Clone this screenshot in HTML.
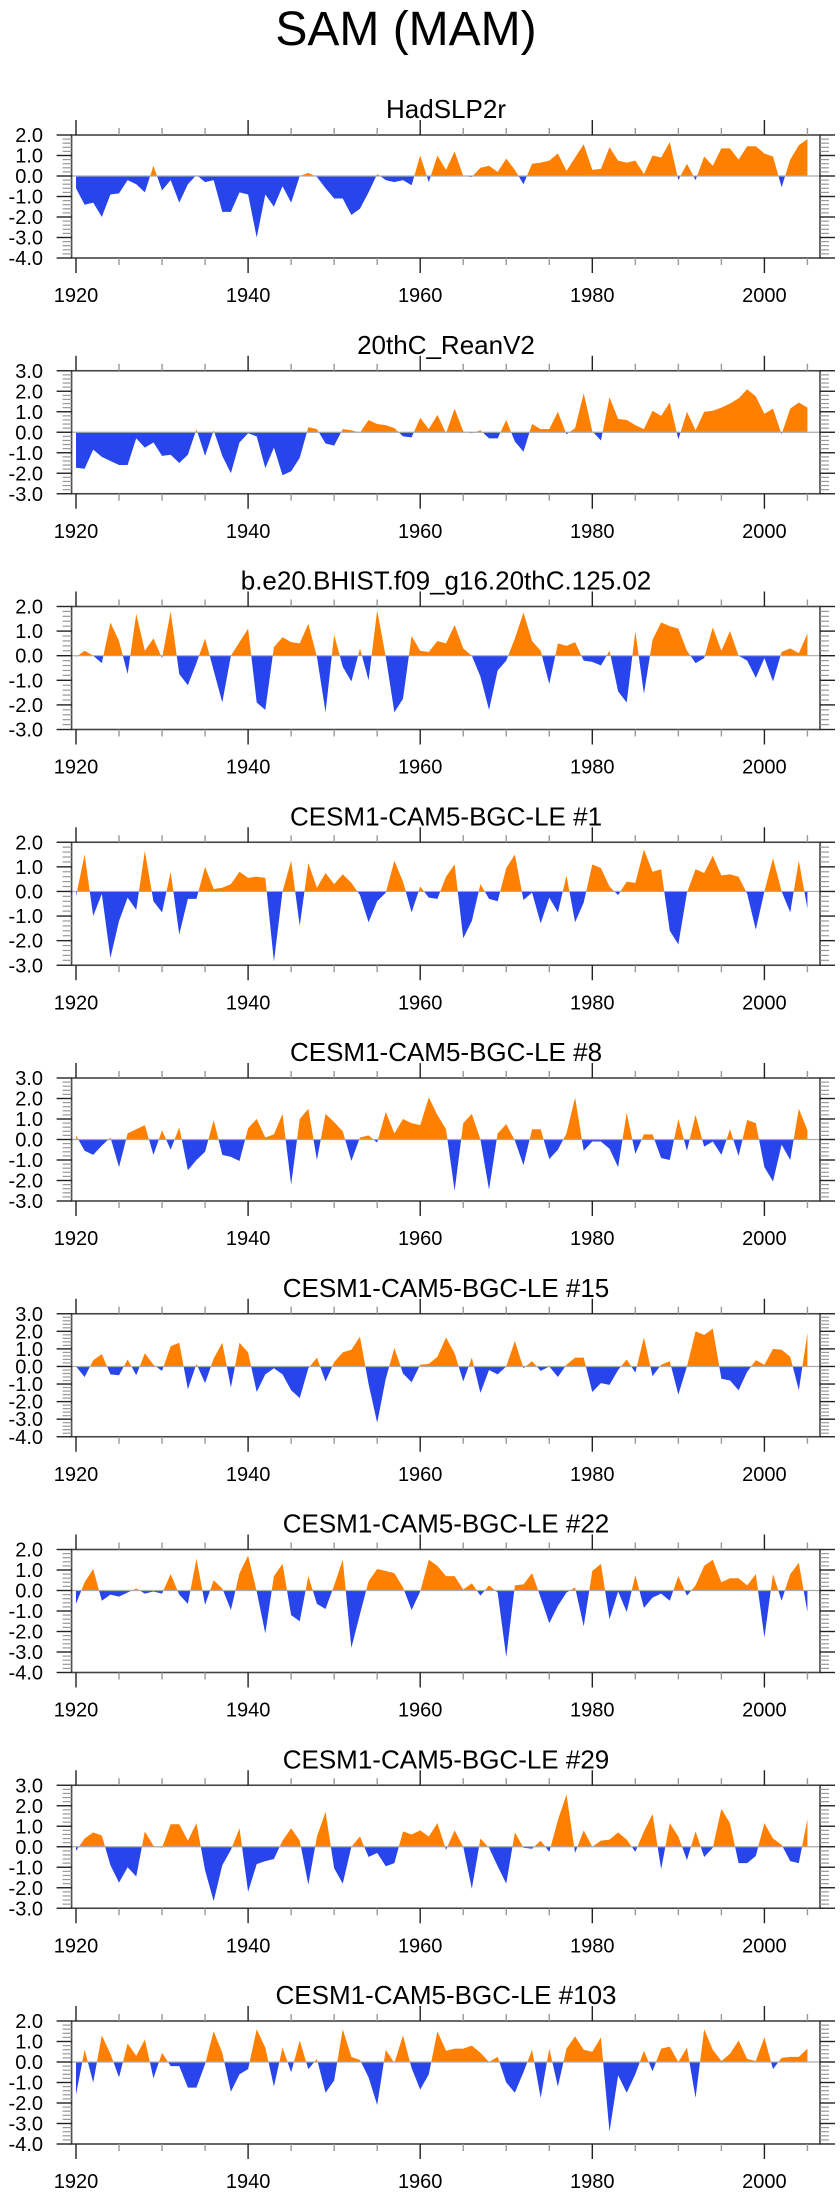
<!DOCTYPE html>
<html>
<head>
<meta charset="utf-8">
<style>
html,body{margin:0;padding:0;background:#fff;}
svg{display:block;}
text{font-family:"Liberation Sans",sans-serif;fill:#000;}
</style>
</head>
<body>
<svg id="chart" width="840" height="2200" viewBox="0 0 840 2200" xmlns="http://www.w3.org/2000/svg">
<text x="406" y="45" font-size="48" text-anchor="middle">SAM (MAM)</text>
</svg>
<script>
const startYear = 1920;
const years = [];
for (let y = 1920; y <= 2005; y++) years.push(y);
const xTickLabels = ["1920","1940","1960","1980","2000"];
const panelTitles = ["HadSLP2r","20thC_ReanV2","b.e20.BHIST.f09_g16.20thC.125.02","CESM1-CAM5-BGC-LE #1","CESM1-CAM5-BGC-LE #8","CESM1-CAM5-BGC-LE #15","CESM1-CAM5-BGC-LE #22","CESM1-CAM5-BGC-LE #29","CESM1-CAM5-BGC-LE #103"];
const yMaxs = [2,3,2,2,3,3,2,3,2];
const yMins = [-4,-3,-3,-3,-3,-4,-4,-3,-4];

const had = [-0.6,-1.4,-1.3,-2.0,-0.9,-0.85,-0.2,-0.4,-0.8,0.5,-0.7,-0.2,-1.3,-0.4,0.05,-0.3,-0.2,-1.75,-1.75,-0.8,-0.9,-3.0,-0.9,-1.5,-0.5,-1.3,0.0,0.15,-0.05,-0.6,-1.1,-1.1,-1.9,-1.6,-0.8,0.1,-0.2,-0.3,-0.2,-0.45,1.0,-0.3,1.0,0.3,1.2,0.0,-0.05,0.4,0.5,0.2,0.85,0.3,-0.4,0.6,0.65,0.75,1.1,0.25,0.9,1.55,0.3,0.35,1.4,0.75,0.65,0.75,0.1,1.0,0.9,1.65,-0.2,0.6,-0.2,0.95,0.5,1.35,1.35,0.8,1.45,1.45,1.1,0.95,-0.55,0.8,1.5,1.8];
const rean = [-1.73,-1.78,-0.85,-1.2,-1.4,-1.6,-1.6,-0.3,-0.75,-0.5,-1.15,-1.1,-1.5,-1.1,0.15,-1.15,0.1,-1.15,-2.0,-0.5,-0.05,-0.2,-1.75,-0.75,-2.1,-1.9,-1.25,0.25,0.15,-0.55,-0.65,0.15,0.1,-0.02,0.6,0.4,0.35,0.2,-0.2,-0.25,0.7,0.15,0.85,-0.05,1.15,0.05,-0.05,0.1,-0.3,-0.3,0.6,-0.45,-0.95,0.4,0.15,0.15,1.0,-0.1,0.2,1.9,0.05,-0.4,1.7,0.65,0.6,0.35,0.15,1.05,0.8,1.45,-0.35,1.0,0.1,1.0,1.05,1.2,1.4,1.65,2.1,1.75,0.9,1.15,-0.1,1.15,1.45,1.2];
const bhist = [-0.05,0.2,0.0,-0.3,1.35,0.6,-0.75,1.7,0.2,0.7,-0.1,1.8,-0.75,-1.2,-0.3,0.7,-0.6,-1.9,0.0,0.55,1.1,-1.9,-2.2,0.35,0.75,0.55,0.5,1.3,-0.05,-2.3,0.85,-0.45,-1.05,0.3,-1.0,1.85,-0.05,-2.3,-1.75,0.8,0.2,0.15,0.6,0.5,1.25,0.3,0.0,-0.85,-2.2,-0.6,-0.2,0.7,1.75,0.6,0.2,-1.15,0.5,0.4,0.55,-0.2,-0.25,-0.4,0.2,-1.45,-1.9,1.0,-1.55,0.65,1.35,1.2,1.1,0.2,-0.3,-0.1,1.15,0.2,1.0,0.0,-0.2,-0.9,-0.1,-1.05,0.15,0.3,0.1,0.9];
const le1 = [-0.2,1.5,-1.0,-0.1,-2.7,-1.2,-0.25,-0.75,1.65,-0.4,-0.85,0.8,-1.75,-0.3,-0.3,1.0,0.1,0.15,0.3,0.8,0.55,0.6,0.55,-2.85,0.0,1.25,-1.4,1.15,0.15,0.75,0.3,0.7,0.35,-0.15,-1.25,-0.4,-0.05,1.25,0.4,-0.85,0.2,-0.25,-0.3,0.6,1.1,-1.9,-1.2,0.3,-0.3,-0.4,0.95,1.5,-0.35,-0.05,-1.3,-0.25,-0.85,0.65,-1.25,-0.45,1.1,0.95,0.2,-0.15,0.4,0.35,1.7,0.8,0.9,-1.6,-2.15,-0.05,0.9,0.75,1.45,0.65,0.7,0.6,-0.1,-1.55,0.0,1.35,0.0,-0.85,1.25,-0.7];
const le8 = [0.2,-0.55,-0.75,-0.3,0.1,-1.35,0.3,0.5,0.7,-0.75,0.45,-0.5,0.6,-1.5,-1.0,-0.6,0.95,-0.75,-0.85,-1.05,0.55,1.0,0.1,0.25,1.25,-2.2,1.0,1.5,-1.0,1.25,0.85,0.4,-1.05,0.1,0.2,-0.15,1.35,0.3,1.0,0.8,0.7,2.05,1.2,0.5,-2.5,0.8,1.25,0.0,-2.45,0.3,0.75,-0.05,-1.25,0.5,0.5,-0.95,-0.5,0.3,2.05,-0.55,-0.1,-0.1,-0.45,-1.35,1.3,-0.7,0.25,0.25,-0.9,-1.0,1.0,-0.55,1.2,-0.35,-0.1,-0.75,0.5,-0.8,0.95,0.8,-1.35,-2.05,-0.25,-1.0,1.5,0.45];
const le15 = [0.0,-0.6,0.35,0.7,-0.45,-0.5,0.4,-0.5,0.75,0.1,-0.25,1.15,1.35,-1.3,0.15,-0.95,0.45,1.35,-1.2,1.35,0.8,-1.45,-0.45,-0.1,-0.45,-1.35,-1.8,-0.1,0.5,-0.85,0.25,0.8,0.95,1.7,-1.0,-3.2,-0.7,1.05,-0.4,-0.9,0.1,0.15,0.55,1.65,0.75,-0.85,0.5,-1.5,-0.2,-0.45,0.0,1.45,-0.1,0.3,-0.25,0.0,-0.6,0.1,0.5,0.5,-1.45,-0.95,-1.05,-0.2,0.4,-0.35,1.65,-0.55,0.1,0.3,-1.6,0.0,2.0,1.8,2.15,-0.7,-0.8,-1.35,-0.3,0.35,0.1,1.0,0.95,0.55,-1.35,1.9];
const le22 = [-0.65,0.4,1.05,-0.5,-0.2,-0.3,-0.1,0.1,-0.15,-0.05,-0.15,0.8,-0.2,-0.65,1.55,-0.7,0.5,0.1,-0.95,0.85,1.7,-0.05,-2.1,0.7,1.3,-1.2,-1.5,0.7,-0.65,-0.9,0.25,1.5,-2.8,-1.15,0.45,1.05,0.95,0.85,0.15,-0.95,-0.05,1.5,1.2,0.7,0.7,0.05,0.35,-0.25,0.25,-0.1,-3.25,0.25,0.3,0.85,-0.35,-1.6,-0.75,-0.1,0.15,-1.75,0.95,1.3,-1.4,-0.05,-1.05,0.75,-0.85,-0.35,-0.15,-0.5,0.7,-0.25,0.25,1.2,1.5,0.4,0.6,0.6,0.25,0.8,-2.3,0.8,-0.5,0.8,1.35,-1.05];
const le29 = [-0.2,0.4,0.7,0.55,-0.9,-1.75,-1.0,-1.45,0.75,0.05,-0.05,1.1,1.1,0.3,1.15,-1.15,-2.65,-0.9,-0.15,0.9,-2.2,-0.85,-0.7,-0.6,0.3,0.9,0.3,-1.85,0.5,1.7,-1.05,-1.8,0.0,0.5,-0.5,-0.3,-0.95,-0.8,0.75,0.6,0.8,0.5,1.15,-0.15,0.8,0.0,-2.05,0.4,-0.05,-0.95,-1.8,0.7,-0.05,-0.1,0.3,-0.25,1.3,2.55,-0.3,0.8,0.0,0.3,0.35,0.7,0.35,-0.25,0.75,1.6,-1.1,1.15,0.5,-0.65,0.75,-0.5,-0.05,1.85,1.15,-0.8,-0.8,-0.45,1.15,0.4,0.1,-0.7,-0.8,1.35];
const le103 = [-1.6,0.6,-1.0,1.3,0.4,-0.75,0.9,0.3,1.1,-0.8,0.45,-0.2,-0.2,-1.25,-1.25,-0.1,1.5,0.45,-1.45,-0.6,-0.35,1.6,0.7,-1.2,0.7,-0.5,1.05,-0.35,0.15,-1.5,-0.9,1.6,0.25,0.1,-0.75,-2.1,0.6,-0.05,1.3,-0.3,-1.35,-0.6,1.5,0.55,0.65,0.65,0.8,0.45,0.0,0.25,-1.0,-1.5,-0.5,0.6,-1.75,0.65,-1.2,0.65,1.25,0.6,0.5,1.2,-3.4,-0.65,-1.5,-0.6,0.55,-0.45,0.65,0.75,0.0,0.7,-1.75,1.6,0.6,0.05,0.4,1.05,0.15,0.05,1.2,-0.35,0.2,0.25,0.25,0.65];
const allSeries = [had, rean, bhist, le1, le8, le15, le22, le29, le103];

const NS = "http://www.w3.org/2000/svg";
const svg = document.getElementById("chart");
const PL = 71.6, PR = 820, PH = 123, TOP0 = 135, STEP = 235.75;
const X0 = 76, PX = 8.605;
function xScale(yr){ return X0 + (yr - startYear) * PX; }
function mk(tag, attrs, parent){
  const e = document.createElementNS(NS, tag);
  for (const k in attrs) e.setAttribute(k, attrs[k]);
  (parent || svg).appendChild(e);
  return e;
}

allSeries.forEach(function(vals, k){
  const T = TOP0 + STEP * k, B = T + PH;
  const ymax = yMaxs[k], ymin = yMins[k];
  function yScale(v){ return T + (ymax - v) / (ymax - ymin) * PH; }
  const y0 = yScale(0);
  const g = mk("g", {});
  
  

  const title = mk("text", {x: 446, y: T - 17, "font-size": 26, "text-anchor": "middle"}, g);
  title.textContent = panelTitles[k];
  
  

  // clip paths
  const defs = mk("defs", {}, g);
  const cpA = mk("clipPath", {id: "ca" + k}, defs);
  mk("rect", {x: PL, y: T, width: PR - PL, height: y0 - T}, cpA);
  const cpB = mk("clipPath", {id: "cb" + k}, defs);
  mk("rect", {x: PL, y: y0, width: PR - PL, height: B - y0}, cpB);

  let d = "M" + xScale(years[0]) + "," + y0;
  vals.forEach(function(v, i){ d += " L" + xScale(years[i]).toFixed(2) + "," + yScale(v).toFixed(2); });
  d += " L" + xScale(years[vals.length - 1]) + "," + y0 + " Z";
  const pos = mk("path", {d: d, fill: "#ff8000", "clip-path": "url(#ca" + k + ")"}, g);
  
  
  const neg = mk("path", {d: d, fill: "#2845ec", "clip-path": "url(#cb" + k + ")"}, g);
  
  

  const zl = mk("line", {x1: PL, x2: PR, y1: y0, y2: y0, stroke: "#aaa", "stroke-width": 1.2}, g);
  
  

  const frame = mk("rect", {x: PL, y: T, width: PR - PL, height: PH, fill: "none", stroke: "#444", "stroke-width": 1.6}, g);
  
  

  // y ticks
  for (let v10 = ymin * 10; v10 <= ymax * 10; v10 += 2) {
    const v = v10 / 10, yy = yScale(v);
    const major = (v10 % 10 === 0);
    const len = major ? 15 : 9;
    const col = major ? "#222" : "#999";
    mk("line", {x1: PL - len, x2: PL, y1: yy, y2: yy, stroke: col, "stroke-width": major ? 1.4 : 1.2}, g);
    mk("line", {x1: PR, x2: PR + len, y1: yy, y2: yy, stroke: col, "stroke-width": major ? 1.4 : 1.2}, g);
    if (major) {
      const t = mk("text", {x: 43, y: yy + 7, "font-size": 20, "text-anchor": "end"}, g);
      t.textContent = v.toFixed(1);
      
      
    }
  }
  // x ticks
  for (let yr = 1920; yr <= 2005; yr += 5) {
    const xx = xScale(yr);
    const major = (yr % 20 === 0);
    const len = major ? 15 : 7;
    const col = major ? "#222" : "#999";
    mk("line", {x1: xx, x2: xx, y1: B, y2: B + len, stroke: col, "stroke-width": 1.4}, g);
    mk("line", {x1: xx, x2: xx, y1: T - len, y2: T, stroke: col, "stroke-width": 1.4}, g);
  }
  xTickLabels.forEach(function(lab){
    const t = mk("text", {x: xScale(+lab), y: B + 44, "font-size": 20, "text-anchor": "middle"}, g);
    t.textContent = lab;
    
    
  });
});
</script>
</body>
</html>
